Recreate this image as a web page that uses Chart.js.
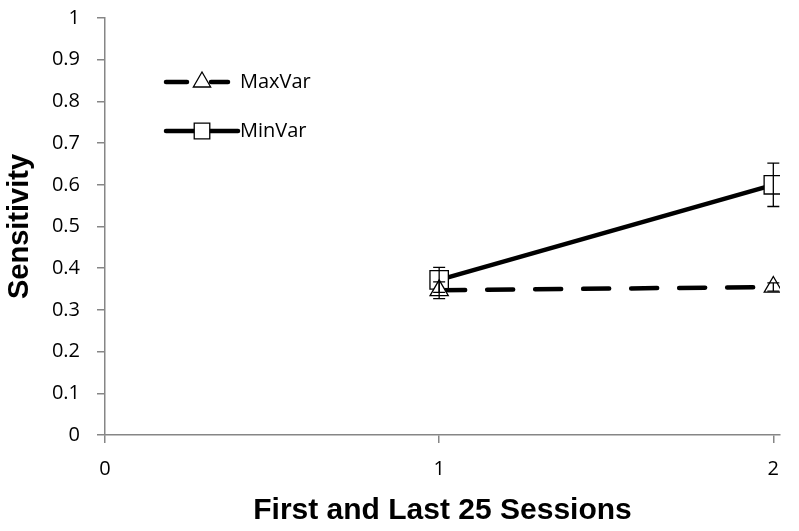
<!DOCTYPE html>
<html>
<head>
<meta charset="utf-8">
<script src="https://cdn.jsdelivr.net/npm/chart.js@4"></script>
<style>
  html, body { margin: 0; padding: 0; background: #fff; }
  #wrap { width: 799px; height: 531px; }
</style>
</head>
<body>
<div id="wrap"><canvas id="chart" width="799" height="531"></canvas></div>
<script>
// 数据
const sessions = [1, 2];
const maxVar = [0.347, 0.355];
const maxVarErr = [0.02, 0.01];
const minVar = [0.372, 0.600];
const minVarErr = [0.03, 0.052];
const xTicks = [0, 1, 2];

const tickFont = { family: '"Open Sans", sans-serif', size: 20 };
const titleFont = { family: '"Liberation Sans", Arial, sans-serif', size: 30, weight: 'bold' };
const axisGray = '#868686';

// 误差线插件
const errorBars = {
  id: 'errorBars',
  afterDatasetsDraw(chart) {
    const { ctx, scales: { x, y } } = chart;
    ctx.save();
    ctx.strokeStyle = '#000';
    ctx.lineWidth = 1.3;
    chart.data.datasets.forEach(ds => {
      ds.errors.forEach((e, i) => {
        const px = x.getPixelForValue(ds.data[i].x);
        const top = y.getPixelForValue(ds.data[i].y + e);
        const bot = y.getPixelForValue(ds.data[i].y - e);
        ctx.beginPath();
        ctx.moveTo(px, top); ctx.lineTo(px, bot);
        ctx.moveTo(px - 6, top); ctx.lineTo(px + 6, top);
        ctx.moveTo(px - 6, bot); ctx.lineTo(px + 6, bot);
        ctx.stroke();
      });
    });
    ctx.restore();
  }
};

// 图例插件（图内左上）
const innerLegend = {
  id: 'innerLegend',
  afterDraw(chart) {
    const { ctx } = chart;
    const rows = [
      { ds: chart.data.datasets[0], y: 82, segs: [[166, 187], [211, 228]] },
      { ds: chart.data.datasets[1], y: 131, segs: [[166, 238]] }
    ];
    ctx.save();
    rows.forEach(r => {
      ctx.strokeStyle = '#000';
      ctx.lineWidth = 4.5;
      ctx.lineCap = 'round';
      r.segs.forEach(s => {
        ctx.beginPath();
        ctx.moveTo(s[0], r.y);
        ctx.lineTo(s[1], r.y);
        ctx.stroke();
      });
      ctx.lineWidth = 1.3;
      ctx.fillStyle = '#fff';
      Chart.helpers.drawPoint(ctx, {
        pointStyle: r.ds.pointStyle,
        radius: r.ds.pointStyle === 'rect' ? 11 : 10,
        borderWidth: 1.3
      }, 202, r.y);
      ctx.fillStyle = '#000';
      ctx.font = '20px "Open Sans", sans-serif';
      ctx.textBaseline = 'middle';
      ctx.fillText(r.ds.label, 240, r.y);
    });
    ctx.restore();
  }
};

new Chart(document.getElementById('chart').getContext('2d'), {
  type: 'line',
  data: {
    datasets: [
      {
        label: 'MaxVar',
        data: sessions.map((s, i) => ({ x: s, y: maxVar[i] })),
        errors: maxVarErr,
        borderColor: '#000',
        borderWidth: 4.5,
        borderDash: [26, 22],
        borderCapStyle: 'round',
        pointStyle: 'triangle',
        pointRadius: 10.5,
        pointBorderWidth: 1.3,
        pointBackgroundColor: '#fff',
        pointBorderColor: '#000',
        tension: 0
      },
      {
        label: 'MinVar',
        data: sessions.map((s, i) => ({ x: s, y: minVar[i] })),
        errors: minVarErr,
        borderColor: '#000',
        borderWidth: 4.5,
        pointStyle: 'rect',
        pointRadius: 13,
        pointBorderWidth: 1.3,
        pointBackgroundColor: '#fff',
        pointBorderColor: '#000',
        tension: 0
      }
    ]
  },
  options: {
    responsive: false,
    animation: false,
    layout: { padding: { top: 18, right: 19, left: 0, bottom: 0 } },
    plugins: { legend: { display: false }, tooltip: { enabled: false } },
    scales: {
      x: {
        type: 'linear',
        min: 0,
        max: 2.02,
        afterBuildTicks: s => { s.ticks = xTicks.map(v => ({ value: v })); },
        afterFit: s => { s.height = 96; },
        grid: { drawOnChartArea: false, color: axisGray, tickLength: 8, lineWidth: 1.5 },
        border: { color: axisGray, width: 1.5 },
        ticks: { color: '#000', font: tickFont, padding: 14, maxRotation: 0 },
        title: {
          display: true,
          text: 'First and Last 25 Sessions',
          color: '#000',
          font: titleFont,
          padding: { top: 4, bottom: 2 }
        }
      },
      y: {
        min: 0,
        max: 1,
        afterFit: s => { s.width = 105; s.paddingTop = 0; s.paddingBottom = 0; },
        grid: { drawOnChartArea: false, color: axisGray, tickLength: 8, lineWidth: 1.5 },
        border: { color: axisGray, width: 1.5 },
        ticks: {
          stepSize: 0.1,
          color: '#000',
          font: tickFont,
          padding: 17,
          callback: v => String(Math.round(v * 10) / 10)
        },
        title: {
          display: true,
          text: 'Sensitivity',
          color: '#000',
          font: { ...titleFont, size: 29 },
          padding: { top: 3, bottom: 0 }
        }
      }
    }
  },
  plugins: [errorBars, innerLegend]
});
</script>
</body>
</html>
